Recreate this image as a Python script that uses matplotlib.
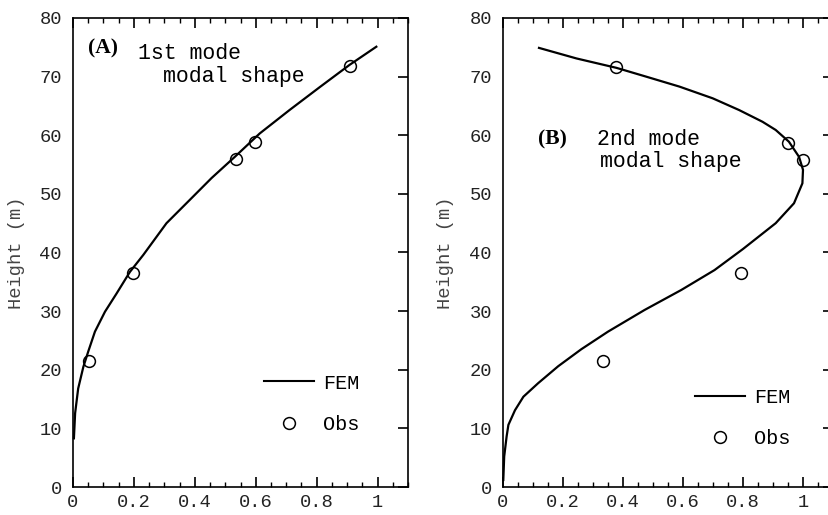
import matplotlib
matplotlib.use("Agg")
import matplotlib.pyplot as plt
from matplotlib.ticker import MultipleLocator, FuncFormatter
from matplotlib.lines import Line2D

# ---- data ----
fem1_x = [0.003, 0.007, 0.017, 0.034, 0.050, 0.072, 0.105, 0.143, 0.187, 0.231, 0.307, 0.384,
          0.455, 0.531, 0.613, 0.711, 0.81, 0.908, 0.996]
fem1_h = [8.3, 12.6, 16.8, 20.5, 23.1, 26.5, 29.9, 33.0, 36.7, 39.6, 45.0, 49.0,
          52.7, 56.3, 60.3, 64.3, 68.2, 72.0, 75.1]
obs1_x = [0.053, 0.197, 0.534, 0.598, 0.908]
obs1_h = [21.5, 36.5, 55.9, 58.9, 71.8]

fem2_x = [0.001, 0.004, 0.012, 0.018, 0.040, 0.068, 0.117, 0.184, 0.261, 0.350, 0.472, 0.594,
          0.705, 0.80, 0.909, 0.970, 0.998, 1.0, 0.987, 0.953, 0.909, 0.865, 0.787, 0.699,
          0.588, 0.477, 0.378, 0.245, 0.12]
fem2_h = [1.2, 5.2, 8.6, 10.6, 13.1, 15.4, 17.7, 20.6, 23.5, 26.5, 30.2, 33.6,
          37.0, 40.6, 45.0, 48.4, 51.8, 54.1, 56.3, 58.9, 60.9, 62.3, 64.3, 66.3,
          68.3, 70.0, 71.5, 73.1, 74.9]
obs2_x = [0.333, 0.795, 0.378, 0.951, 1.0]
obs2_h = [21.5, 36.5, 71.6, 58.7, 55.8]

x_ticks = [0, 0.2, 0.4, 0.6, 0.8, 1.0]
y_ticks = [0, 10, 20, 30, 40, 50, 60, 70, 80]

MONO = "Liberation Mono"
SERIF = "Liberation Serif"

fig = plt.figure(figsize=(8.29, 5.15), dpi=100)
ax1 = fig.add_axes([73/829, 28/515, 335/829, 469/515])
ax2 = fig.add_axes([503/829, 28/515, 330/829, 469/515])

def fmt(v, pos):
    if abs(v - round(v)) < 1e-9:
        return "%d" % round(v)
    return ("%.1f" % v)

def style(ax):
    ax.set_xlim(0, 1.1)
    ax.set_ylim(0, 80)
    ax.set_xticks(x_ticks)
    ax.xaxis.set_major_formatter(FuncFormatter(fmt))
    ax.xaxis.set_minor_locator(MultipleLocator(0.05))
    ax.set_yticks(y_ticks)
    ax.tick_params(axis="x", which="both", direction="in", top=True, bottom=True,
                   labelsize=13.5, pad=5, labelcolor="#222222")
    ax.tick_params(axis="x", which="major", length=7, width=1.2)
    ax.tick_params(axis="x", which="minor", length=3.5, width=1.0)
    ax.tick_params(axis="y", which="major", direction="in", left=False, right=True,
                   length=7, width=1.2, labelsize=13.5, pad=8, labelcolor="#222222")
    for lab in ax.get_xticklabels() + ax.get_yticklabels():
        lab.set_fontfamily(MONO)
    for s in ax.spines.values():
        s.set_linewidth(1.2)
    ax.set_ylabel("Height (m)", fontfamily=MONO, fontsize=13.5, color="#444444")

style(ax1)
style(ax2)
ax1.yaxis.set_label_coords(-0.143, 0.5)
ax2.yaxis.set_label_coords(-0.148, 0.5)

for ax, fx, fh, ox, oh in [(ax1, fem1_x, fem1_h, obs1_x, obs1_h),
                           (ax2, fem2_x, fem2_h, obs2_x, obs2_h)]:
    ax.plot(fx, fh, color="black", lw=1.6, clip_on=False, solid_joinstyle="round")
    ax.plot(ox, oh, linestyle="none", marker="o", markersize=8.5,
            markerfacecolor="none", markeredgecolor="black", markeredgewidth=1.1)

def legend(ax, x, y):
    handles = [Line2D([], [], color="black", lw=1.5),
               Line2D([], [], linestyle="none", marker="o", markersize=8.5,
                      markerfacecolor="none", markeredgecolor="black", markeredgewidth=1.1)]
    ax.legend(handles, ["FEM", "Obs"], loc="upper left", bbox_to_anchor=(x, y),
              frameon=False, borderpad=0, borderaxespad=0, handlelength=2.5,
              handletextpad=0.45, labelspacing=1.1,
              prop={"family": MONO, "size": 14.5})

legend(ax1, 0.570, 0.242)
legend(ax2, 0.582, 0.212)

ax1.text(0.045, 0.936, "(A)", transform=ax1.transAxes, fontfamily=SERIF,
         fontweight="bold", fontsize=15.5, va="center", ha="left")
ax1.text(0.194, 0.925, "1st mode", transform=ax1.transAxes, fontfamily=MONO,
         fontsize=15.5, va="center", ha="left")
ax1.text(0.269, 0.876, "modal shape", transform=ax1.transAxes, fontfamily=MONO,
         fontsize=15.5, va="center", ha="left")

ax2.text(0.106, 0.740, "(B)", transform=ax2.transAxes, fontfamily=SERIF,
         fontweight="bold", fontsize=15.5, va="center", ha="left")
ax2.text(0.285, 0.740, "2nd mode", transform=ax2.transAxes, fontfamily=MONO,
         fontsize=15.5, va="center", ha="left")
ax2.text(0.294, 0.693, "modal shape", transform=ax2.transAxes, fontfamily=MONO,
         fontsize=15.5, va="center", ha="left")

fig.savefig("out.png", dpi=100)
